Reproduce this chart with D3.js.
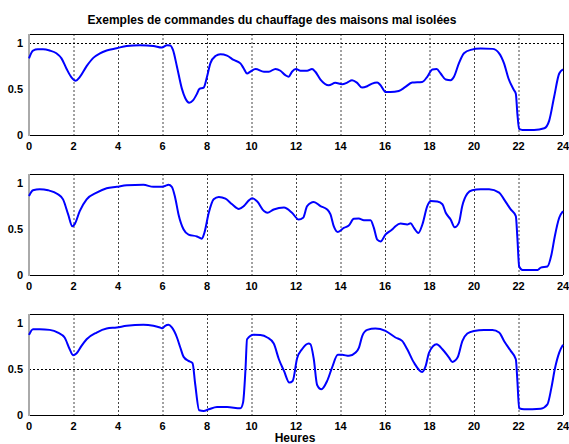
<!DOCTYPE html>
<html><head><meta charset="utf-8">
<script src="https://cdn.jsdelivr.net/npm/d3@7"></script>
<style>body{margin:0;background:#fff}svg{display:block}text{font-family:"Liberation Sans",Arial,sans-serif;font-weight:bold}</style>
</head><body><svg id="c" width="569" height="444"></svg>
<script>
const title = "Exemples de commandes du chauffage des maisons mal isolées";
const xLabel = "Heures";
const xTicks = [0,2,4,6,8,10,12,14,16,18,20,22,24];
const yTicks = [0,0.5,1];
const refLines = [1, null, 0.5];

const hours1 = [0,0.18,0.4,0.63,0.93,1.23,1.46,1.68,1.9,2.1,2.28,2.59,2.89,3.19,3.49,3.94,4.39,4.99,5.59,5.97,6.2,6.35,6.47,6.65,6.87,7.02,7.2,7.37,7.55,7.65,7.85,8.0,8.15,8.38,8.6,8.9,9.2,9.5,9.65,9.8,9.95,10.18,10.56,10.78,11.08,11.3,11.52,11.67,11.82,12.0,12.2,12.5,12.72,12.87,13.1,13.47,13.77,14.07,14.3,14.52,14.75,14.97,15.2,15.42,15.65,15.8,16.02,16.25,16.62,16.92,17.22,17.67,17.9,18.13,18.32,18.5,18.73,18.95,19.1,19.32,19.55,19.85,20.3,20.83,21.13,21.35,21.55,21.8,21.88,21.95,22.03,22.18,22.7,23.16,23.38,23.6,23.83,24.0];
const values1 = [0.835,0.92,0.934,0.934,0.92,0.89,0.835,0.725,0.63,0.59,0.63,0.75,0.84,0.89,0.92,0.945,0.97,0.978,0.97,0.952,0.978,0.975,0.927,0.744,0.505,0.403,0.352,0.377,0.45,0.5,0.516,0.634,0.78,0.86,0.88,0.865,0.817,0.78,0.725,0.67,0.69,0.718,0.69,0.69,0.72,0.70,0.652,0.634,0.689,0.718,0.70,0.70,0.72,0.689,0.604,0.542,0.568,0.553,0.571,0.597,0.568,0.516,0.531,0.56,0.571,0.542,0.469,0.469,0.48,0.524,0.571,0.578,0.634,0.714,0.718,0.67,0.604,0.597,0.634,0.78,0.89,0.927,0.941,0.938,0.89,0.78,0.615,0.487,0.45,0.23,0.066,0.055,0.055,0.073,0.157,0.414,0.67,0.714];

const hours2 = [0,0.18,0.48,0.86,1.3,1.53,1.76,1.95,2.06,2.28,2.59,3.04,3.49,3.94,4.39,5.14,5.59,5.89,6.12,6.27,6.42,6.57,6.72,6.95,7.17,7.55,7.77,7.88,8.08,8.3,8.53,8.83,9.13,9.43,9.65,9.88,10.03,10.26,10.56,10.71,11.0,11.46,11.82,12.12,12.32,12.5,12.8,13.1,13.4,13.55,13.7,13.88,14.15,14.37,14.6,14.82,15.05,15.35,15.5,15.65,15.8,16.02,16.32,16.47,16.7,17.0,17.15,17.3,17.5,17.68,17.9,18.05,18.35,18.58,18.73,18.95,19.13,19.32,19.47,19.7,19.92,20.3,20.68,21.13,21.35,21.65,21.88,21.95,22.03,22.18,22.86,23.0,23.3,23.48,23.63,23.83,24.0];
const values2 = [0.86,0.923,0.934,0.923,0.879,0.824,0.66,0.53,0.557,0.696,0.824,0.897,0.945,0.96,0.978,0.982,0.96,0.96,0.97,0.982,0.96,0.842,0.66,0.495,0.44,0.42,0.396,0.458,0.678,0.824,0.85,0.831,0.77,0.72,0.75,0.813,0.835,0.8,0.696,0.678,0.714,0.735,0.678,0.604,0.623,0.75,0.795,0.75,0.714,0.66,0.53,0.469,0.513,0.538,0.612,0.615,0.597,0.597,0.513,0.385,0.366,0.44,0.495,0.531,0.56,0.55,0.564,0.513,0.458,0.55,0.75,0.806,0.8,0.77,0.678,0.604,0.52,0.568,0.75,0.886,0.923,0.934,0.934,0.897,0.824,0.714,0.641,0.403,0.092,0.055,0.055,0.08,0.092,0.22,0.42,0.623,0.696];

const hours3 = [0,0.18,0.48,0.93,1.3,1.6,1.83,1.98,2.13,2.36,2.59,3.04,3.49,3.94,4.39,5.14,5.59,5.89,6.0,6.12,6.27,6.42,6.65,6.8,6.95,7.17,7.35,7.47,7.65,7.85,8.08,8.45,8.9,9.5,9.62,9.73,9.8,10.1,10.4,10.71,11.0,11.23,11.46,11.7,11.85,12.05,12.27,12.57,12.65,12.8,12.95,13.14,13.4,13.62,13.88,14.07,14.38,14.68,14.83,14.98,15.2,15.57,16.02,16.47,16.77,17.0,17.3,17.67,17.83,17.98,18.32,18.58,18.88,19.03,19.26,19.48,19.7,20.0,20.45,20.83,21.13,21.35,21.65,21.88,21.95,22.03,22.25,23.0,23.3,23.48,23.63,23.83,24.0];
const values3 = [0.873,0.935,0.935,0.927,0.898,0.844,0.716,0.651,0.669,0.753,0.825,0.898,0.942,0.953,0.971,0.982,0.971,0.953,0.945,0.971,0.982,0.953,0.844,0.735,0.633,0.589,0.564,0.335,0.051,0.044,0.062,0.087,0.087,0.073,0.135,0.498,0.825,0.873,0.87,0.844,0.778,0.607,0.48,0.353,0.371,0.618,0.716,0.778,0.771,0.607,0.327,0.28,0.371,0.516,0.655,0.655,0.644,0.68,0.735,0.862,0.927,0.942,0.916,0.844,0.807,0.716,0.571,0.469,0.535,0.68,0.771,0.716,0.625,0.578,0.625,0.807,0.887,0.916,0.927,0.927,0.898,0.807,0.698,0.607,0.371,0.073,0.062,0.069,0.116,0.298,0.498,0.68,0.764];

const series = [[hours1, values1], [hours2, values2], [hours3, values3]];

const svg = d3.select("#c");
const left = 29, right = 563, tops = [34, 174, 314], h = 101;
const x = d3.scaleLinear().domain([0, 24]).range([left, right]);

svg.append("text").attr("x", 272).attr("y", 24).attr("text-anchor", "middle")
  .attr("font-size", 12).text(title);

series.forEach(([hs, vs], i) => {
  const top = tops[i];
  const y = d3.scaleLinear().domain([0, 1.1]).range([top + h, top]);
  const g = svg.append("g");
  g.selectAll("line.vg").data(xTicks.filter(t => t > 0 && t < 24)).join("line")
    .attr("x1", d => x(d) + 0.5).attr("x2", d => x(d) + 0.5)
    .attr("y1", top).attr("y2", top + h)
    .attr("stroke", "#444").attr("stroke-width", 1).attr("stroke-dasharray", "2,2");
  if (refLines[i] !== null) {
    g.append("line").attr("x1", left).attr("x2", right)
      .attr("y1", Math.round(y(refLines[i])) + 0.5).attr("y2", Math.round(y(refLines[i])) + 0.5)
      .attr("stroke", "#000").attr("stroke-dasharray", "2,2");
  }
  g.append("line").attr("x1", left).attr("x2", right).attr("y1", top + 0.5).attr("y2", top + 0.5).attr("stroke", "#000");
  g.append("line").attr("x1", left).attr("x2", right).attr("y1", top + h + 0.5).attr("y2", top + h + 0.5).attr("stroke", "#000");
  g.append("line").attr("x1", right + 0.5).attr("x2", right + 0.5).attr("y1", top).attr("y2", top + h).attr("stroke", "#000");
  g.append("line").attr("x1", left).attr("x2", left).attr("y1", top).attr("y2", top + h + 1).attr("stroke", "#aaa").attr("stroke-width", 2);
  const line = d3.line().x(d => x(d[0])).y(d => y(d[1])).curve(d3.curveMonotoneX);
  g.append("path").datum(hs.map((t, k) => [t, vs[k]])).attr("d", line)
    .attr("fill", "none").attr("stroke", "#0000ff").attr("stroke-width", 2).attr("stroke-linejoin", "round");
  g.selectAll("text.xt").data(xTicks).join("text")
    .attr("x", d => x(d)).attr("y", top + h + 15).attr("text-anchor", "middle")
    .attr("font-size", 11).text(d => d);
  g.selectAll("text.yt").data(yTicks).join("text")
    .attr("x", 23).attr("y", d => y(d) + 4).attr("text-anchor", "end")
    .attr("font-size", 11).text(d => d);
});

svg.append("text").attr("x", 295).attr("y", 442).attr("text-anchor", "middle")
  .attr("font-size", 12).text(xLabel);
</script></body></html>
